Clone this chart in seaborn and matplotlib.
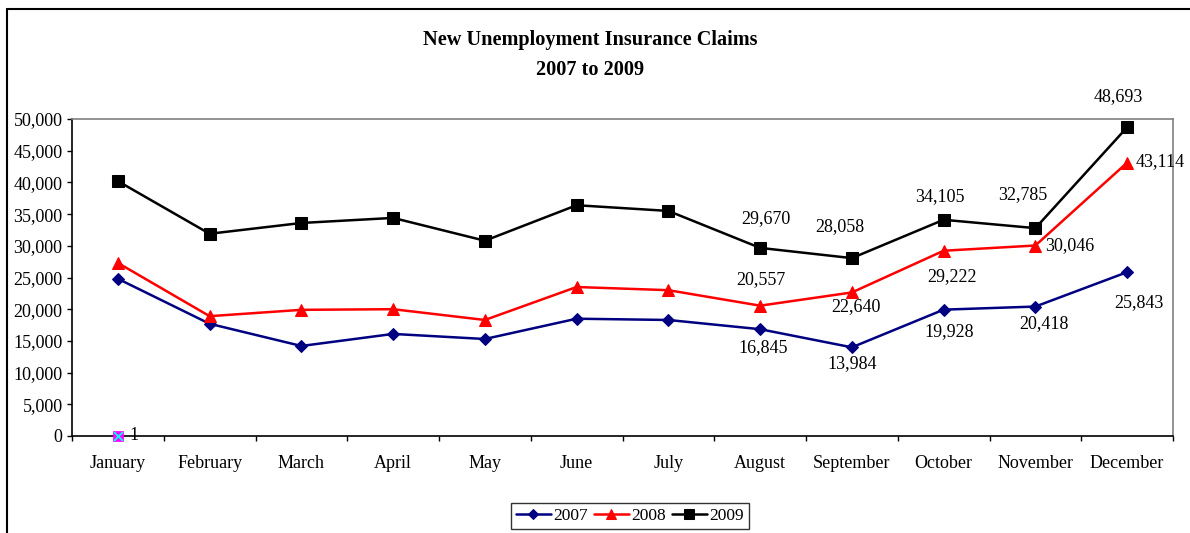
import matplotlib
matplotlib.use("Agg")
import matplotlib.pyplot as plt
import seaborn as sns
import pandas as pd
from matplotlib.lines import Line2D
from matplotlib.ticker import FuncFormatter, FixedLocator

months = ["January", "February", "March", "April", "May", "June", "July",
          "August", "September", "October", "November", "December"]
claims_2007 = [24800, 17700, 14200, 16100, 15300, 18500, 18300, 16845, 13984, 19928, 20418, 25843]
claims_2008 = [27300, 18900, 19900, 20000, 18300, 23500, 23000, 20557, 22640, 29222, 30046, 43114]
claims_2009 = [40200, 31900, 33600, 34400, 30800, 36400, 35500, 29670, 28058, 34105, 32785, 48693]
stray_value = [1]
labelled_months = ["August", "September", "October", "November", "December"]

sns.set_theme(style="white")
plt.rcParams["font.family"] = ["Liberation Serif", "DejaVu Serif"]
plt.rcParams["text.color"] = "black"
plt.rcParams["xtick.color"] = "black"
plt.rcParams["ytick.color"] = "black"

fig = plt.figure(figsize=(11.9, 5.33), dpi=100)
ax = fig.add_axes([72/1190, 1-436/533, (1173-72)/1190, (436-119)/533])

series = [
    ("2007", claims_2007, "#000080", "D", 6),
    ("2008", claims_2008, "#FF0000", "^", 8),
    ("2009", claims_2009, "#000000", "s", 8),
]
for name, vals, color, mk, ms in series:
    df = pd.DataFrame({"month": months, "claims": vals})
    sns.lineplot(data=df, x="month", y="claims", ax=ax, color=color, marker=mk,
                 markersize=ms, markeredgecolor=color, linewidth=1.8, sort=False,
                 label=name)

# stray series at January
sdf = pd.DataFrame({"month": months[:1], "claims": stray_value})
sns.scatterplot(data=sdf, x="month", y="claims", ax=ax, marker="s", s=45,
                color="#FF00FF", edgecolor="#FF00FF", zorder=5, legend=False, clip_on=False)
sns.scatterplot(data=sdf, x="month", y="claims", ax=ax, marker="x", s=40,
                color="#00FFFF", linewidth=1.3, zorder=6, legend=False, clip_on=False)
ax.annotate(f"{stray_value[0]:,}", (0, stray_value[0]), xytext=(16, 0),
            textcoords="offset pixels", ha="center", va="center", fontsize=13)

# data labels (offset in pixels, y up positive)
offsets = {
    "2009": [(6, 29), (-12, 32), (-4, 23), (-13, 34), (-9, 31)],
    "2008": [(1, 26), (4, -14), (8, -26), (34, 0), (33, 1)],
    "2007": [(3, -18), (0, -16), (6, -22), (9, -17), (12, -30)],
}
for name, vals, color, mk, ms in series:
    for (dx, dy), m in zip(offsets[name], labelled_months):
        i = months.index(m)
        ax.annotate(f"{vals[i]:,}", (i, vals[i]), xytext=(dx, dy),
                    textcoords="offset pixels", ha="center", va="center",
                    fontsize=13, color="black")

ax.set_xlim(-0.5, len(months) - 0.5)
ax.set_ylim(0, 50000)
ax.set_yticks(range(0, 50001, 5000))
ax.yaxis.set_major_formatter(FuncFormatter(lambda v, p: f"{int(v):,}"))
ax.set_xticks(range(len(months)))
ax.set_xticklabels(months)
ax.xaxis.set_minor_locator(FixedLocator([i - 0.5 for i in range(len(months) + 1)]))
ax.tick_params(axis="x", which="major", length=0, pad=14, labelsize=13, colors="black")
ax.tick_params(axis="x", which="minor", length=3.6, width=1, color="black", direction="out", bottom=True)
ax.tick_params(axis="y", which="major", length=3.6, width=1, color="black", direction="out",
               left=True, labelsize=13, pad=3.2, labelcolor="black")
ax.set_xlabel("")
ax.set_ylabel("")
for side in ["left", "bottom"]:
    ax.spines[side].set_color("black")
    ax.spines[side].set_linewidth(1.2)
for side in ["top", "right"]:
    ax.spines[side].set_color("#808080")
    ax.spines[side].set_linewidth(1.2)
ax.grid(False)

fig.text(590/1190, 1-40/533, "New Unemployment Insurance Claims", ha="center", va="center",
         fontsize=14.6, fontweight="bold", color="black")
fig.text(590/1190, 1-70/533, "2007 to 2009", ha="center", va="center",
         fontsize=14.6, fontweight="bold", color="black")

leg = ax.legend(loc="center", bbox_to_anchor=(630/1190, 1-516/533),
                bbox_transform=fig.transFigure, ncol=3, frameon=True, fancybox=False,
                fontsize=12.5, handlelength=2.0, handletextpad=0.15, columnspacing=0.35,
                borderpad=0.3, borderaxespad=0, markerscale=0.85)
leg.get_frame().set_edgecolor("black")
leg.get_frame().set_linewidth(1.0)

# chart area border (left and top)
fig.add_artist(Line2D([7/1190, 7/1190], [0, 1-9/533], transform=fig.transFigure,
                      color="black", linewidth=1.5))
fig.add_artist(Line2D([7/1190, 1], [1-9/533, 1-9/533], transform=fig.transFigure,
                      color="black", linewidth=1.5))

fig.savefig("out.png", dpi=100)
